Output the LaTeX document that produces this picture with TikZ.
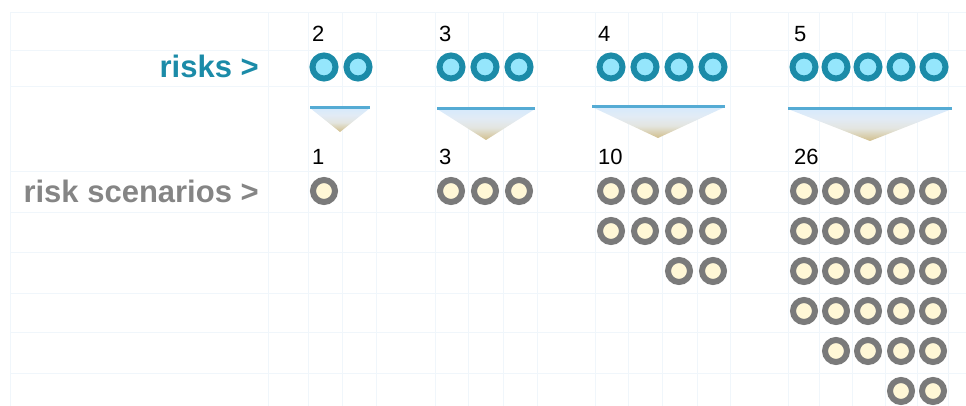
\documentclass[tikz,border=0pt]{standalone}
\usepackage{fontspec}
\setmainfont{Liberation Sans}
\definecolor{gridc}{HTML}{F0F6FB}
\definecolor{teal}{HTML}{1B8BA8}
\definecolor{tealin}{HTML}{95E6FC}
\definecolor{greyring}{HTML}{7A7A7A}
\definecolor{cream}{HTML}{FFF7D6}
\definecolor{labgrey}{HTML}{858585}
\definecolor{triline}{HTML}{55ABD4}
\definecolor{shA}{HTML}{D2BF8C}
\definecolor{shB}{HTML}{E3E5E0}
\definecolor{shC}{HTML}{E2EBF5}
\definecolor{shD}{HTML}{D6EAFC}
\pgfdeclareverticalshading{trishade}{100bp}{
  color(0bp)=(shA);
  color(25bp)=(shA);
  color(45bp)=(shB);
  color(60bp)=(shC);
  color(75bp)=(shD);
  color(100bp)=(shD)}
\tikzset{
  riskc/.style={circle,draw=teal,fill=tealin,line width=6pt,minimum size=23pt,inner sep=0pt},
  scenc/.style={circle,draw=greyring,fill=cream,line width=6pt,minimum size=22pt,inner sep=0pt},
  num/.style={anchor=base west,inner sep=0pt,font=\fontsize{22}{22}\selectfont},
  lab/.style={anchor=base east,inner sep=0pt,font=\fontsize{31}{31}\selectfont\bfseries},
  gridl/.style={draw=gridc,line width=1pt},
  tri/.style={shading=trishade,draw=none},
  triedge/.style={draw=triline,line width=3pt}
}
\begin{document}
\begin{tikzpicture}[x=1pt,y=-1pt]
\useasboundingbox (0,0) rectangle (966,406);
% grid
\foreach \yy in {13,51,87,172,213,252,293,332,373}
  \draw[gridl] (10,\yy) -- (966,\yy);
\foreach \xx in {10,268,308,342,376,435,468,503,537,595,628,662,697,730,788,819,852,885,917,948}
  \draw[gridl] (\xx,13) -- (\xx,406);
% labels
\node[lab,text=teal] (lrisk) at (259,78) {risks >};
\node[lab,text=labgrey] (lscen) at (259,203) {risk scenarios >};
% top numbers
\node[num] (n2) at (312,42) {2};
\node[num] (n3) at (439,42) {3};
\node[num] (n4) at (598,42) {4};
\node[num] (n5) at (794,42) {5};
% bottom numbers
\node[num] (m1) at (312,165) {1};
\node[num] (m3) at (439,165) {3};
\node[num] (m10) at (598,165) {10};
\node[num] (m26) at (794,165) {26};
% risk circles
\foreach \xx [count=\i] in {324,358}
  \node[riskc] (ra\i) at (\xx,67) {};
\foreach \xx [count=\i] in {451,485,519}
  \node[riskc] (rb\i) at (\xx,67) {};
\foreach \xx [count=\i] in {611,645,679,713}
  \node[riskc] (rc\i) at (\xx,67) {};
\foreach \xx [count=\i] in {804,836,868,901,934}
  \node[riskc] (rd\i) at (\xx,67) {};
% triangles
\shade[tri] (310,108) -- (370,108) -- (340,132) -- cycle;
\draw[triedge] (310,108) -- (370,108);
\shade[tri] (437,109) -- (535,109) -- (486,140) -- cycle;
\draw[triedge] (437,109) -- (535,109);
\shade[tri] (592,107) -- (725,107) -- (658,138) -- cycle;
\draw[triedge] (592,107) -- (725,107);
\shade[tri] (788,109) -- (952,109) -- (870,141) -- cycle;
\draw[triedge] (788,109) -- (952,109);
% scenario circles
\node[scenc] (sa1) at (324,191) {};
\foreach \xx [count=\i] in {451,485,519}
  \node[scenc] (sb\i) at (\xx,191) {};
\foreach \yy [count=\j] in {191,231}
  \foreach \xx [count=\i] in {611,645,679,713}
    \node[scenc] (sc\j\i) at (\xx,\yy) {};
\foreach \xx [count=\i] in {679,713}
  \node[scenc] (sc3\i) at (\xx,271) {};
\foreach \yy [count=\j] in {191,231,271,311}
  \foreach \xx [count=\i] in {804,836,868,901,933}
    \node[scenc] (sd\j\i) at (\xx,\yy) {};
\foreach \xx [count=\i] in {836,868,901,933}
  \node[scenc] (sd5\i) at (\xx,351) {};
\foreach \xx [count=\i] in {901,933}
  \node[scenc] (sd6\i) at (\xx,391) {};
\end{tikzpicture}
\end{document}
